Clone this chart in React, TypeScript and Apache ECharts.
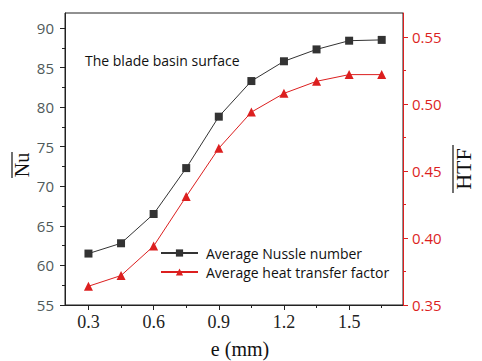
import React, { useEffect, useRef } from "react";
import * as echarts from "echarts";

const eValues = [0.3, 0.45, 0.6, 0.75, 0.9, 1.05, 1.2, 1.35, 1.5, 1.65];
const nusselt = [61.5, 62.8, 66.5, 72.3, 78.8, 83.3, 85.8, 87.3, 88.4, 88.5];
const htf = [0.364, 0.372, 0.394, 0.431, 0.467, 0.494, 0.508, 0.517, 0.522, 0.522];
const xTickLabels = [0.3, 0.6, 0.9, 1.2, 1.5];
const xMinorTicks = [0.45, 0.75, 1.05, 1.35, 1.65];
const leftTicks = [55, 60, 65, 70, 75, 80, 85, 90];
const leftMinor = [57.5, 62.5, 67.5, 72.5, 77.5, 82.5, 87.5];
const rightTicks = [0.35, 0.4, 0.45, 0.5, 0.55];
const rightMinor = [0.375, 0.425, 0.475, 0.525];
const seriesNames = ["Average Nussle number", "Average heat transfer factor"];

const BLACK = "#222";
const RED = "#dc1f1f";
const SANS = "'Open Sans', Lato, sans-serif";
const SERIF = "'Liberation Serif', 'DejaVu Serif', serif";

export default function App() {
  const ref = useRef<HTMLDivElement>(null);
  useEffect(() => {
    document.body.style.margin = "0";
    if (!ref.current) return;
    const chart = echarts.init(ref.current, null, { renderer: "svg" });
    const xMin = 0.192, xMax = 1.748;
    const lMin = 55, lMax = 91.9;
    const rMin = 0.35, rMax = 0.568;
    chart.setOption({
      animation: false,
      grid: { left: 65, right: 79, top: 13, bottom: 56, show: true, borderColor: BLACK, borderWidth: 1, backgroundColor: "transparent" },
      xAxis: [
        {
          type: "value", min: xMin, max: xMax, position: "bottom",
          axisLine: { show: true, lineStyle: { color: BLACK, width: 1 } },
          axisTick: { show: true, inside: false, length: 5, customValues: xTickLabels, lineStyle: { color: BLACK } },
          axisLabel: { customValues: xTickLabels, margin: 8, color: BLACK, fontFamily: SERIF, fontSize: 18, formatter: (v: number) => String(v) },
          splitLine: { show: false },
        },
        {
          type: "value", min: xMin, max: xMax, position: "bottom",
          axisLine: { show: false },
          axisTick: { show: true, length: 3, customValues: xMinorTicks, lineStyle: { color: BLACK } },
          axisLabel: { show: false },
          splitLine: { show: false },
        },
      ],
      yAxis: [
        {
          type: "value", min: lMin, max: lMax, position: "left",
          axisLine: { show: true, lineStyle: { color: BLACK, width: 1 } },
          axisTick: { show: true, length: 5, customValues: leftTicks, lineStyle: { color: BLACK } },
          axisLabel: { customValues: leftTicks, margin: 11, color: "#4f5a5a", fontFamily: SANS, fontSize: 15 },
          splitLine: { show: false },
        },
        {
          type: "value", min: rMin, max: rMax, position: "right",
          axisLine: { show: true, lineStyle: { color: RED, width: 1 } },
          axisTick: { show: true, length: 5, customValues: rightTicks, lineStyle: { color: RED } },
          axisLabel: { customValues: rightTicks, margin: 9, color: RED, fontFamily: SANS, fontSize: 15, formatter: (v: number) => v.toFixed(2) },
          splitLine: { show: false },
        },
        {
          type: "value", min: lMin, max: lMax, position: "left",
          axisLine: { show: false },
          axisTick: { show: true, length: 3, customValues: leftMinor, lineStyle: { color: BLACK } },
          axisLabel: { show: false },
          splitLine: { show: false },
        },
        {
          type: "value", min: rMin, max: rMax, position: "right",
          axisLine: { show: false },
          axisTick: { show: true, length: 3, customValues: rightMinor, lineStyle: { color: RED } },
          axisLabel: { show: false },
          splitLine: { show: false },
        },
      ],
      legend: {
        orient: "vertical", left: 160, top: 246, padding: 0, itemWidth: 37, itemHeight: 9, itemGap: 5,
        textStyle: { fontFamily: SANS, fontSize: 14, color: "#111", padding: [0, 0, 0, 3] },
        data: seriesNames,
      },
      series: [
        {
          name: seriesNames[0], type: "line", xAxisIndex: 0, yAxisIndex: 0,
          data: eValues.map((e, i) => [e, nusselt[i]]),
          symbol: "rect", symbolSize: 8,
          lineStyle: { color: "#333", width: 1 }, itemStyle: { color: "#333" },
        },
        {
          name: seriesNames[1], type: "line", xAxisIndex: 0, yAxisIndex: 1,
          data: eValues.map((e, i) => [e, htf[i]]),
          symbol: "triangle", symbolSize: 9,
          lineStyle: { color: RED, width: 1 }, itemStyle: { color: RED },
        },
      ],
      graphic: [
        { type: "text", x: 85, y: 60, style: { text: "The blade basin surface", fontFamily: SANS, fontSize: 14, fill: "#111", verticalAlign: "middle" } },
        { type: "text", x: 240, y: 349, style: { text: "e (mm)", fontFamily: SERIF, fontSize: 20, fill: "#111", align: "center", verticalAlign: "middle" } },
        { type: "text", x: 22, y: 165, rotation: Math.PI / 2, style: { text: "Nu", fontFamily: SERIF, fontSize: 20, fill: "#111", align: "center", verticalAlign: "middle" } },
        { type: "line", shape: { x1: 12, y1: 152, x2: 12, y2: 178 }, style: { stroke: "#111", lineWidth: 1.2 } },
        { type: "text", x: 463, y: 169, rotation: Math.PI / 2, style: { text: "HTF", fontFamily: SERIF, fontSize: 22, fill: "#111", align: "center", verticalAlign: "middle" } },
        { type: "line", shape: { x1: 453, y1: 145, x2: 453, y2: 193 }, style: { stroke: "#111", lineWidth: 1.2 } },
      ],
    });
    return () => chart.dispose();
  }, []);
  return <div ref={ref} style={{ width: 482, height: 361 }} />;
}
